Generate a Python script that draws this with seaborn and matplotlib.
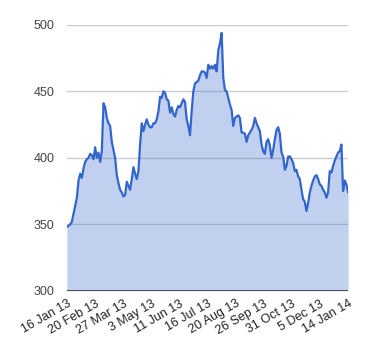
import numpy as np
import seaborn as sns
import matplotlib.pyplot as plt

# values, roughly evenly spaced from 16 Jan 13 to 14 Jan 14
price = [
    348, 349, 350, 352, 358, 364, 370, 383, 388, 385, 392, 397, 399, 400, 403, 402, 399, 408, 400, 404,
    397, 405, 441, 438, 430, 426, 424, 412, 406, 400, 387, 381, 376, 374, 371, 372, 382, 379, 376, 384,
    393, 388, 384, 390, 410, 426, 420, 425, 429, 425, 423, 423, 426, 426, 429, 435, 446, 445, 450, 449,
    444, 443, 434, 438, 433, 431, 436, 439,
    438, 441, 444, 442, 429, 424, 417, 435, 450, 456, 457, 458, 462, 465, 465, 464, 460, 470, 467, 469,
    467, 470, 465, 481, 486, 494, 460, 451, 450, 445, 440, 436, 424, 430, 431, 432, 430, 419, 419, 418,
    412, 417, 419, 421, 424, 430, 426, 423, 420, 410, 405, 403, 412, 414, 409, 400, 406, 414, 421, 423,
    418, 404, 401, 391, 394, 401, 401, 399, 396, 390, 391, 386, 384, 376, 369, 367, 360, 366, 374, 379,
    383, 386, 387, 384, 380, 379, 376, 374, 370, 374, 390, 389, 394, 398, 401, 404, 405, 410, 375, 383,
    380, 374,
]
tick_labels = ['16 Jan 13', '20 Feb 13', '27 Mar 13', '3 May 13', '11 Jun 13', '16 Jul 13',
               '20 Aug 13', '26 Sep 13', '31 Oct 13', '5 Dec 13', '14 Jan 14']
y_ticks = [300, 350, 400, 450, 500]

sns.set_style("white")
plt.rcParams['font.family'] = ['Liberation Sans', 'DejaVu Sans']

idx = np.arange(len(price))

fig = plt.figure(figsize=(3.8, 3.6), dpi=100)
ax = fig.add_axes([0.176, 0.192, 0.740, 0.739])

for y in y_ticks[1:]:
    ax.axhline(y, color='#cccccc', lw=1, zorder=0)
ax.fill_between(idx, 300, price, color='#3366cc', alpha=0.3, lw=0, zorder=1)
sns.lineplot(x=idx, y=price, ax=ax, color='#3366cc', lw=1.6, zorder=3)
ax.axhline(300, color='#333333', lw=1.2, zorder=4)

ax.set_xlim(0, len(price) - 1)
ax.set_ylim(300, 500)
ax.set_yticks(y_ticks)
ax.set_yticklabels([str(v) for v in y_ticks], fontsize=9, color='#444444')
ax.set_xticks(np.linspace(0, len(price) - 1, len(tick_labels)))
ax.set_xticklabels(tick_labels, rotation=30, ha='right', rotation_mode='anchor',
                   fontsize=9, color='#222222')
ax.tick_params(axis='y', length=0, pad=9)
ax.tick_params(axis='x', length=0, pad=5)
for s in ax.spines.values():
    s.set_visible(False)

fig.savefig('out.png', dpi=100)
